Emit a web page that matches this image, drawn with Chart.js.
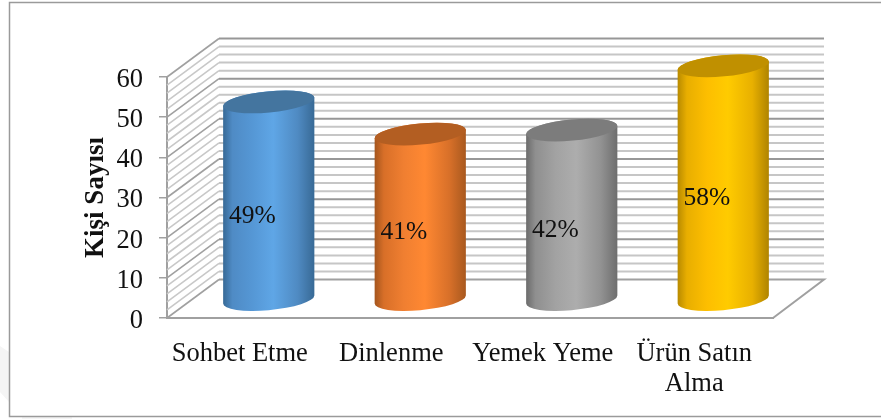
<!DOCTYPE html>
<html>
<head>
<meta charset="utf-8">
<style>html,body{margin:0;padding:0;background:#fff}canvas{display:block}</style>
<script src="https://cdn.jsdelivr.net/npm/chart.js@4"></script>
</head>
<body>
<canvas id="c" width="881" height="419"></canvas>
<script>
const categories = ["Sohbet Etme", "Dinlenme", "Yemek Yeme", ["Ürün Satın", "Alma"]];
const values = [49, 41, 42, 58];
const percentLabels = ["49%", "41%", "42%", "58%"];
const axisTitle = "Kişi Sayısı";

const baseColors = ["#5b9bd5", "#ed7d31", "#a5a5a5", "#ffc000"];
const topColors = ["#44759f", "#b35e22", "#7c7c7c", "#c09000"];
const sideStops = [
  ["#376a97", "#4f8bc5", "#5597d5", "#5fa6e6", "#4f8ac2", "#386a96"],
  ["#a5561e", "#d86f28", "#f07f31", "#ff8832", "#d87029", "#a9591f"],
  ["#6c6c6c", "#8f8f8f", "#a2a2a2", "#adadad", "#929292", "#6e6e6e"],
  ["#b98b00", "#e8ae00", "#fdbe00", "#ffcb00", "#e8b000", "#b08400"]
];
const stopAt = [0, 0.1, 0.32, 0.55, 0.82, 1];
const FONT = '"Liberation Serif", "Times New Roman", serif';
const DX = 52, DY = -38.5;
const ROT = -5.4 * Math.PI / 180, RX = 45.8, RY = 10.6;

const scene = {
  id: "scene",
  beforeDraw(chart) {
    const c = chart.ctx;
    c.save();
    c.fillStyle = "#f5f5f5";
    c.beginPath();
    c.moveTo(0, 346); c.lineTo(9, 352); c.lineTo(9, 402); c.lineTo(0, 392);
    c.closePath();
    c.fill();
    c.fillRect(22, 417, 50, 2);
    c.strokeStyle = "#9a9a9a";
    c.lineWidth = 1.5;
    c.beginPath();
    c.moveTo(881, 2.5); c.lineTo(9.5, 2.5); c.lineTo(9.5, 416.5); c.lineTo(881, 416.5);
    c.stroke();
    c.restore();
  },
  beforeDatasetsDraw(chart) {
    const c = chart.ctx, y = chart.scales.y, a = chart.chartArea;
    c.save();
    for (let v = 0; v <= 60; v += 2) {
      const major = v % 10 === 0;
      const py = y.getPixelForValue(v);
      if (v > 0) {
        c.lineWidth = 2;
        c.strokeStyle = major ? "#979797" : "#c6c6c6";
        c.beginPath();
        c.moveTo(a.left + DX, py + DY); c.lineTo(a.right + DX - 1, py + DY);
        c.stroke();
      }
      c.lineWidth = 1.6;
      c.strokeStyle = major ? "#a0a0a0" : "#c8c8c8";
      c.beginPath();
      c.moveTo(a.left, py); c.lineTo(a.left + DX, py + DY);
      c.stroke();
    }
    c.strokeStyle = "#a0a0a0";
    c.lineWidth = 2;
    const b = y.getPixelForValue(0);
    c.beginPath();
    c.moveTo(a.left + DX, b + DY); c.lineTo(a.right + DX - 1, b + DY); c.lineTo(a.right, b);
    c.stroke();
    c.restore();
  },
  beforeDatasetDraw() { return false; },
  afterDatasetsDraw(chart) {
    const c = chart.ctx;
    const tRight = Math.atan2(-RY * Math.sin(ROT), RX * Math.cos(ROT));
    const tLeft = tRight + Math.PI;
    chart.getDatasetMeta(0).data.forEach((el, i) => {
      const cx = el.x + DX / 2, top = el.y + DY / 2, bot = el.base + DY / 2 + 1.5;
      const hw = el.width / 2;
      const g = c.createLinearGradient(cx - hw, 0, cx + hw, 0);
      sideStops[i].forEach((col, k) => g.addColorStop(stopAt[k], col));
      c.save();
      c.fillStyle = g;
      c.beginPath();
      c.ellipse(cx, bot, RX, RY, ROT, tRight, tLeft);
      c.ellipse(cx, top, RX, RY, ROT, tLeft, tRight + 2 * Math.PI);
      c.closePath();
      c.fill();
      c.fillStyle = topColors[i];
      c.beginPath();
      c.ellipse(cx, top, RX, RY, ROT, 0, 2 * Math.PI);
      c.fill();
      c.fillStyle = "#111";
      c.font = "25.5px " + FONT;
      c.textAlign = "center";
      c.textBaseline = "middle";
      c.fillText(percentLabels[i], cx - 16.5, (top + bot) / 2 + 15.5);
      c.restore();
    });
  }
};

new Chart(document.getElementById("c"), {
  type: "bar",
  data: {
    labels: categories,
    datasets: [{ label: axisTitle, data: values, backgroundColor: baseColors, barPercentage: 0.6, categoryPercentage: 1 }]
  },
  plugins: [scene],
  options: {
    responsive: false,
    animation: false,
    layout: { padding: { left: 0, right: 108, top: 77, bottom: 0 } },
    plugins: { legend: { display: false }, tooltip: { enabled: false } },
    scales: {
      x: {
        afterFit(s) { s.height = 101; },
        grid: { display: false, drawTicks: false },
        border: { display: true, color: "#a0a0a0", width: 2 },
        ticks: { color: "#111", font: { family: FONT, size: 26.5, lineHeight: 1.14 }, padding: 21, labelOffset: -3, maxRotation: 0, autoSkip: false }
      },
      y: {
        min: 0, max: 60,
        afterFit(s) { s.width = 167; },
        grid: { drawOnChartArea: false, drawTicks: true, tickLength: 8, color: "#a0a0a0", lineWidth: 1.5 },
        border: { display: true, color: "#a0a0a0", width: 2 },
        ticks: { stepSize: 10, color: "#111", font: { family: FONT, size: 26.5 }, padding: 16, labelOffset: 3 },
        title: { display: true, text: axisTitle, color: "#111", font: { family: FONT, size: 27, weight: "bold" }, padding: { top: 80, bottom: 0 } }
      }
    }
  }
});
</script>
</body>
</html>
